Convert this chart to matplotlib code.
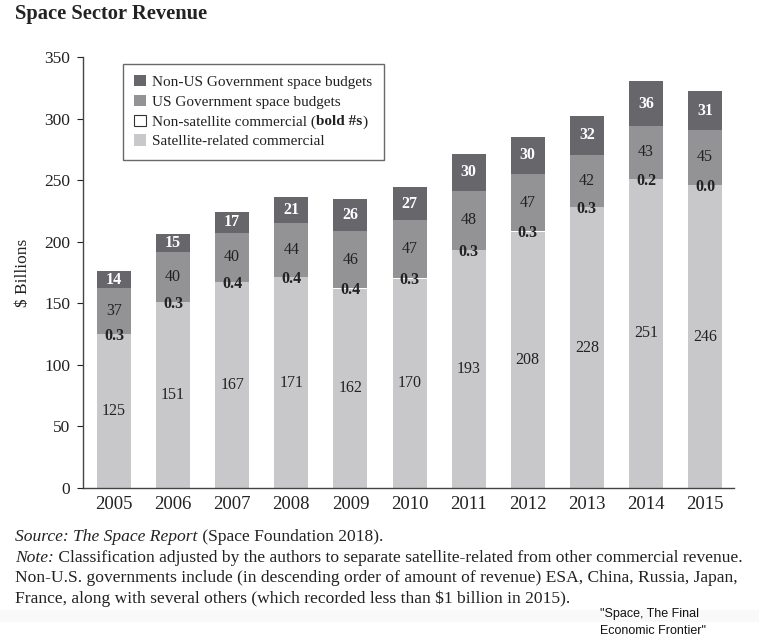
import matplotlib
matplotlib.use("Agg")
import matplotlib.pyplot as plt
from matplotlib.patches import Patch, Rectangle

years = ["2005", "2006", "2007", "2008", "2009", "2010",
         "2011", "2012", "2013", "2014", "2015"]
sat_commercial = [125, 151, 167, 171, 162, 170, 193, 208, 228, 251, 246]
nonsat_commercial = [0.3, 0.3, 0.4, 0.4, 0.4, 0.3, 0.3, 0.3, 0.3, 0.2, 0.0]
us_gov = [37, 40, 40, 44, 46, 47, 48, 47, 42, 43, 45]
nonus_gov = [14, 15, 17, 21, 26, 27, 30, 30, 32, 36, 31]

C_DARK = "#67666b"
C_MID = "#939396"
C_LIGHT = "#c8c8ca"
TXT = "#222222"
SERIF = "Liberation Serif"

plt.rcParams["font.family"] = SERIF

fig = plt.figure(figsize=(7.59, 6.43), dpi=100)
ax = fig.add_axes([83 / 759, 1 - 488 / 643, 651 / 759, 431 / 643])

x = list(range(len(years)))
w = 0.575
b1 = sat_commercial
b2 = [s + n for s, n in zip(sat_commercial, nonsat_commercial)]
b3 = [a + u for a, u in zip(b2, us_gov)]

ax.bar(x, sat_commercial, w, color=C_LIGHT)
ax.bar(x, nonsat_commercial, w, bottom=b1, color="white")
ax.bar(x, us_gov, w, bottom=b2, color=C_MID)
ax.bar(x, nonus_gov, w, bottom=b3, color=C_DARK)

for i in x:
    ax.text(i, sat_commercial[i] / 2, str(sat_commercial[i]), ha="center",
            va="center", fontsize=11.5, color=TXT)
    ax.text(i, b2[i] - 1.5, f"{nonsat_commercial[i]:.1f}", ha="center",
            va="center", fontsize=11.5, fontweight="bold", color=TXT)
    ax.text(i, b2[i] + us_gov[i] / 2, str(us_gov[i]), ha="center",
            va="center", fontsize=11.5, color=TXT)
    ax.text(i, b3[i] + nonus_gov[i] / 2, str(nonus_gov[i]), ha="center",
            va="center", fontsize=11.5, fontweight="bold", color="white")

ax.set_xlim(-0.525, 10.49)
ax.set_ylim(0, 350)
ax.set_yticks(range(0, 351, 50))
ax.set_xticks(x)
ax.set_xticklabels(years)
ax.tick_params(axis="x", length=0, pad=6, labelsize=13.5, colors=TXT)
ax.tick_params(axis="y", length=4, width=0.8, pad=5, labelsize=12.5, colors=TXT)
for s in ["top", "right"]:
    ax.spines[s].set_visible(False)
for s in ["left", "bottom"]:
    ax.spines[s].set_color("#444444")
    ax.spines[s].set_linewidth(1.0)
ax.set_ylabel("$ Billions", fontsize=12.5, color=TXT, labelpad=10)

handles = [
    Patch(facecolor=C_DARK, edgecolor="none"),
    Patch(facecolor=C_MID, edgecolor="none"),
    Patch(facecolor="white", edgecolor="#333333", linewidth=0.8),
    Patch(facecolor=C_LIGHT, edgecolor="none"),
]
labels = [
    "Non-US Government space budgets",
    "US Government space budgets",
    "Non-satellite commercial (bold #s)",
    "Satellite-related commercial",
]
leg = ax.legend(handles, labels, loc="upper left",
                bbox_to_anchor=(32 / 651, 1 + 1 / 431), fontsize=11,
                frameon=True, fancybox=False, handlelength=0.75,
                handleheight=0.75, handletextpad=0.45, labelspacing=0.38,
                borderpad=0.75, borderaxespad=0.5)
leg.get_frame().set_edgecolor("#444444")
leg.get_frame().set_linewidth(1.0)
for t in leg.get_texts():
    t.set_color(TXT)

fig.text(15 / 759, 1 - 14 / 643, "Space Sector Revenue", fontsize=14.8,
         fontweight="bold", va="center", ha="left", color=TXT)

# faint grey band near the bottom of the page
fig.patches.append(Rectangle((0, 1 - 622 / 643), 1, 12 / 643,
                             transform=fig.transFigure, facecolor="#f9f9f9",
                             edgecolor="none", zorder=0))

fig.canvas.draw()
renderer = fig.canvas.get_renderer()
W, H = fig.bbox.width, fig.bbox.height

# redraw the third legend label with "bold #s" in bold
lt = leg.get_texts()[2]
px, py = lt.get_transform().transform(lt.get_position())
lt.set_visible(False)
for txt, wt in [("Non-satellite commercial (", "normal"), ("bold #s", "bold"), (")", "normal")]:
    t = fig.text(px / W, py / H, txt, fontsize=11, fontweight=wt,
                 va=lt.get_va(), ha="left", color=TXT, zorder=10)
    px += t.get_window_extent(renderer).width

y0 = 537
lines = [
    [("Source: ", "italic"), ("The Space Report", "italic"),
     (" (Space Foundation 2018).", "normal")],
    [("Note:", "italic"),
     (" Classification adjusted by the authors to separate satellite-related from other commercial revenue.", "normal")],
    [("Non-U.S. governments include (in descending order of amount of revenue) ESA, China, Russia, Japan,", "normal")],
    [("France, along with several others (which recorded less than $1 billion in 2015).", "normal")],
]
for k, parts in enumerate(lines):
    xpos = 15 / 759
    ypos = 1 - (y0 + k * 20.5) / 643
    for txt, style in parts:
        t = fig.text(xpos, ypos, txt.replace("$", r"\$"), fontsize=12.6,
                     style=style, va="center", ha="left", color=TXT)
        xpos += t.get_window_extent(renderer).width / W

fig.text(600 / 759, 1 - 614 / 643, "\"Space, The Final",
         fontsize=9, family="Liberation Sans", va="center", ha="left",
         color="#111111")
fig.text(600 / 759, 1 - 631 / 643, "Economic Frontier\"",
         fontsize=9, family="Liberation Sans", va="center", ha="left",
         color="#111111")

fig.savefig("out.png", dpi=100)
